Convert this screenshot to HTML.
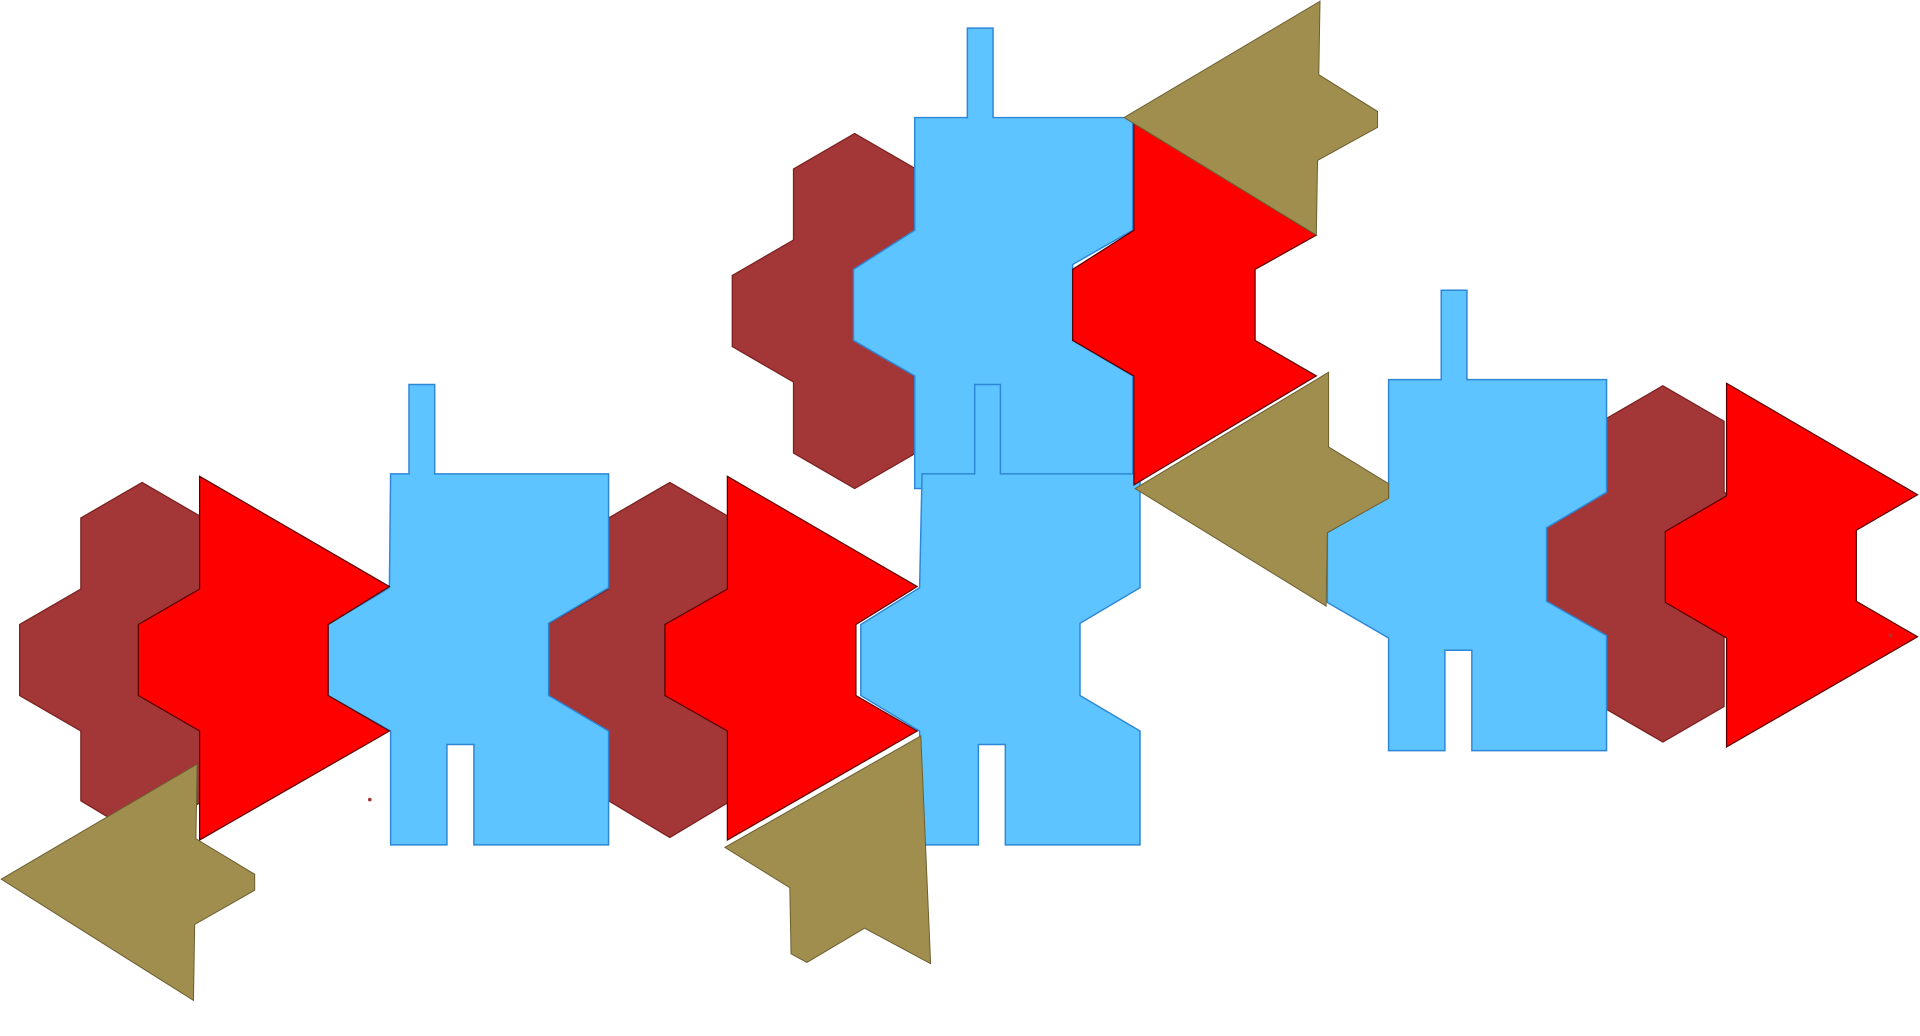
<!DOCTYPE html>
<html><head><meta charset="utf-8"><style>html,body{margin:0;padding:0;background:#fff;overflow:hidden}svg{display:block}</style></head>
<body>
<svg width="1920" height="1036" viewBox="0 0 1920 1036">
<g transform="scale(1.2245)">
<g fill="#A33636" stroke="#7a2020" stroke-width="1">
<polygon points="116,394 166,423 166,481 216,510 216,568 166,597 166,654 116,684 66,654 66,597 16,568 16,510 66,481 66,423"/>
<polygon points="547,394 597,423 597,481 647,510 647,568 597,597 597,654 547,684 497,654 497,597 447,568 447,510 497,481 497,423"/>
<polygon points="698,109 748,138 748,196 798,225 798,283 748,312 748,370 698,399 648,370 648,312 598,283 598,225 648,196 648,138"/>
<polygon points="1358,315 1408,344 1408,402 1458,431 1458,490 1408,519 1408,577 1358,606 1308,577 1308,519 1258,490 1258,431 1308,402 1308,344"/>
</g>
<g fill="#5EC4FF" stroke="#2E86D6" stroke-width="1.2">
<polygon points="747,96 790,96 790,23 811,23 811,96 925,96 925,188 876,216 876,278 925,307 925,399 747,399 747,307 697,278 697,220 747,188"/>
<polygon points="319,387 334,387 334,314 355,314 355,387 497,387 497,480 448,509 448,568 497,597 497,690 387,690 387,608 365,608 365,690 319,690 319,597 268,568 268,510 318,480"/>
<polygon points="753,387 796,387 796,314 817,314 817,387 931,387 931,480 882,509 882,568 931,597 931,690 821,690 821,608 799,608 799,690 753,690 751,597 703,568 703,510 751,480"/>
<polygon points="1134,310 1177,310 1177,237 1198,237 1198,310 1312,310 1312,402 1263,431 1263,491 1312,519 1312,613 1202,613 1202,531 1180,531 1180,613 1134,613 1134,521 1084,492 1084,435 1134,406"/>
</g>
<g fill="#FF0000" stroke="#5a0000" stroke-width="1">
<polygon points="163,389 318,479 268,510 268,568 318,597 163,686 163,597 113,568 113,510 163,481"/>
<polygon points="594,389 749,479 699,510 699,568 749,597 594,686 594,597 543,568 543,510 594,481"/>
<polygon points="926,100 1075,192 1025,220 1025,278 1075,307 926,396 926,307 876,278 876,220 926,188"/>
<polygon points="1410,313 1566,404 1516,433 1516,491 1566,520 1410,610 1410,521 1360,492 1360,434 1410,405"/>
</g>
<g fill="#A08E4E" stroke="#6b5e30" stroke-width="0.8">
<polygon points="918,96 1078,1 1077,61 1125,91 1125,104 1076,131 1075,192"/>
<polygon points="927,399 1085,304 1085,365 1134,395 1134,407 1084,435 1083,495"/>
<polygon points="1,718 161,624 160,685 208,714 208,727 159,755 158,817"/>
<polygon points="592,692 752,601 760,787 706,758 659,786 646,779 645,725"/>
</g>
<circle cx="302" cy="653" r="1.5" fill="#A33636"/>
<circle cx="1544" cy="519" r="1.5" fill="#A33636"/>
</g>
</svg>
</body></html>
